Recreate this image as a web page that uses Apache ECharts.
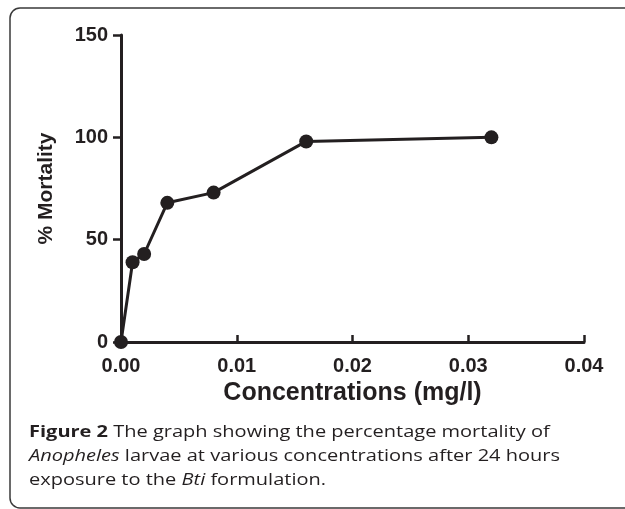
<!DOCTYPE html>
<html>
<head>
<meta charset="utf-8">
<script src="https://cdn.jsdelivr.net/npm/echarts@6/dist/echarts.min.js"></script>
<style>
  html, body { margin: 0; padding: 0; background: #fff; }
  #main { width: 625px; height: 509px; }
</style>
</head>
<body>
<div id="main"></div>
<script>
// concentration (mg/l) and % mortality
const concentrations = [0, 0.001, 0.002, 0.004, 0.008, 0.016, 0.032]
const mortality = [0, 39, 43, 68, 73, 98, 100]
const xTicks = [0, 0.01, 0.02, 0.03, 0.04]
const yTicks = [0, 50, 100, 150]

const ink = '#231f20'
const chart = echarts.init(document.getElementById('main'))

const option = {
  animation: false,
  backgroundColor: '#fff',
  grid: { left: 121, top: 35, width: 463, height: 307 },
  xAxis: {
    type: 'value',
    min: xTicks[0],
    max: xTicks[xTicks.length - 1],
    interval: 0.01,
    name: 'Concentrations (mg/l)',
    nameLocation: 'middle',
    nameGap: 35,
    nameTextStyle: { fontFamily: 'Liberation Sans', fontWeight: 'bold', fontSize: 25, color: ink },
    axisLine: { lineStyle: { color: ink, width: 3 } },
    axisTick: { inside: true, length: 7, lineStyle: { color: ink, width: 2.5 } },
    axisLabel: {
      margin: 14,
      fontFamily: 'Liberation Sans', fontWeight: 'bold', fontSize: 20, color: ink,
      formatter: v => v.toFixed(2)
    },
    splitLine: { show: false }
  },
  yAxis: {
    type: 'value',
    min: yTicks[0],
    max: yTicks[yTicks.length - 1],
    interval: 50,
    name: '% Mortality',
    nameLocation: 'middle',
    nameGap: 64,
    nameTextStyle: { fontFamily: 'Liberation Sans', fontWeight: 'bold', fontSize: 21, color: ink },
    axisLine: { show: true, lineStyle: { color: ink, width: 3 } },
    axisTick: { show: true, length: 8, lineStyle: { color: ink, width: 2.5 } },
    axisLabel: { margin: 13, fontFamily: 'Liberation Sans', fontWeight: 'bold', fontSize: 20, color: ink },
    splitLine: { show: false }
  },
  series: [
    {
      type: 'line',
      data: concentrations.map((c, i) => [c, mortality[i]]),
      symbol: 'circle',
      symbolSize: 14,
      clip: false,
      lineStyle: { color: ink, width: 3 },
      itemStyle: { color: ink }
    }
  ],
  graphic: [
    {
      type: 'rect',
      shape: { x: 10, y: 8, width: 630, height: 500, r: 10 },
      style: { fill: 'none', stroke: '#3a3a3a', lineWidth: 1.5 },
      silent: true
    },
    {
      type: 'text',
      x: 29,
      y: 420,
      scaleX: 1.25,
      style: {
        text: '{b|Figure 2} The graph showing the percentage mortality of\n{i|Anopheles} larvae at various concentrations after 24 hours\nexposure to the {i|Bti} formulation.',
        fontFamily: 'Open Sans',
        fontSize: 16,
        lineHeight: 24,
        fill: ink,
        rich: {
          b: { fontFamily: 'Open Sans', fontWeight: 'bold', fontSize: 16, lineHeight: 24, fill: ink },
          i: { fontFamily: 'Open Sans', fontStyle: 'italic', fontSize: 16, lineHeight: 24, fill: ink }
        }
      }
    }
  ]
}

chart.setOption(option)
</script>
</body>
</html>
